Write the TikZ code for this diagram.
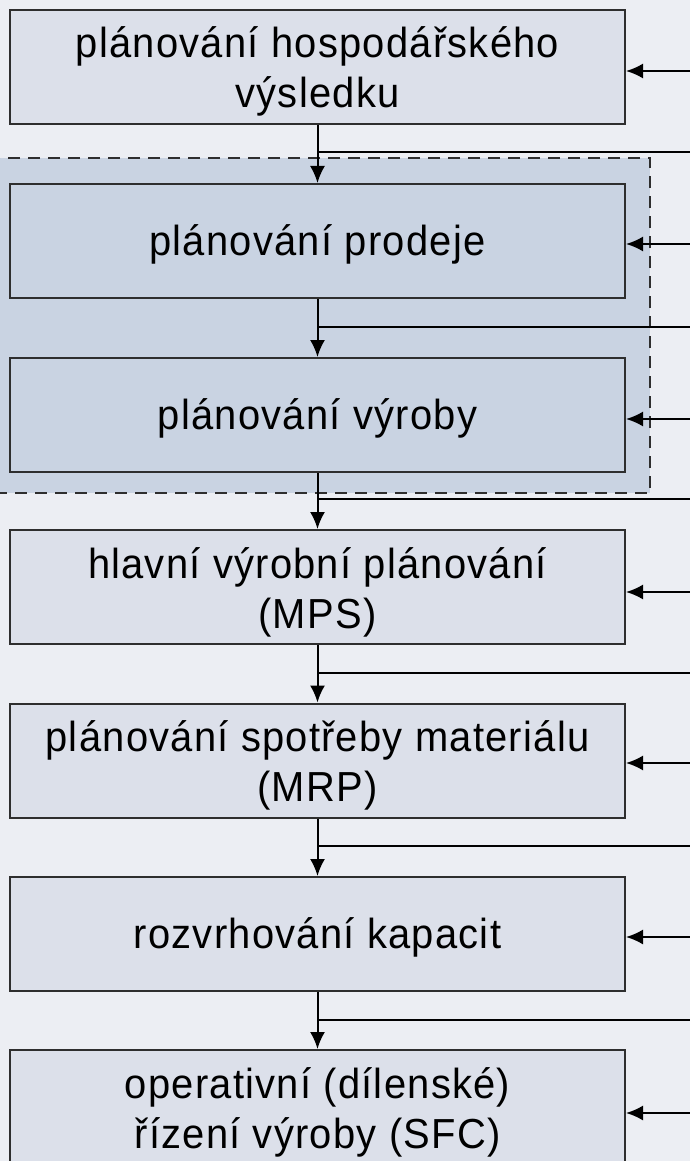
\documentclass[tikz,border=0pt]{standalone}
\usepackage{fontspec}
\setmainfont[FakeStretch=0.95,LetterSpace=3]{Liberation Sans}
\usetikzlibrary{arrows.meta}
\definecolor{bgc}{HTML}{ECEEF3}
\definecolor{boxc}{HTML}{DCE0EA}
\definecolor{grpc}{HTML}{C9D3E2}
\definecolor{edgec}{HTML}{2E2E2E}
\tikzset{
  stage/.style={draw=edgec, line width=2pt, fill=boxc, minimum width=615pt, minimum height=114pt,
    inner sep=0pt},
  ingroup/.style={fill=grpc},
  stxt/.style={align=center, inner sep=0pt, anchor=base, font=\fontsize{42}{50}\selectfont, text=black},
  conn/.style={line width=2pt, black},
  arr/.style={conn, -{Latex[length=17pt,width=15pt]}},
  grp/.style={draw=edgec, line width=2.6pt, dash pattern=on 12pt off 8pt, fill=grpc}
}
\begin{document}
\begin{tikzpicture}[x=1pt,y=1pt]
\fill[bgc] (0,0) rectangle (690,-1161);
\useasboundingbox (0,0) rectangle (690,-1161);
\clip (0,0) rectangle (690,-1161);
% group
\draw[grp] (-10,-158) rectangle (650,-493);
% stages
\node[stage] (b1) at (317.5,-67) {};
\node[stage, ingroup] (b2) at (317.5,-241) {};
\node[stage, ingroup] (b3) at (317.5,-415) {};
\node[stage] (b4) at (317.5,-587) {};
\node[stage] (b5) at (317.5,-760.5) {};
\node[stage] (b6) at (317.5,-934) {};
\node[stage] (b7) at (317.5,-1107) {};
% texts (base anchor: baseline of the last line)
\node[stxt] (t1) at ([yshift=-41pt]b1.center) {plánování hospodářského\\výsledku};
\node[stxt] (t2) at ([yshift=-14pt]b2.center) {plánování prodeje};
\node[stxt] (t3) at ([yshift=-14pt]b3.center) {plánování výroby};
\node[stxt] (t4) at ([yshift=-41pt]b4.center) {hlavní výrobní plánování\\(MPS)};
\node[stxt] (t5) at ([yshift=-41pt]b5.center) {plánování spotřeby materiálu\\(MRP)};
\node[stxt] (t6) at ([yshift=-14pt]b6.center) {rozvrhování kapacit};
\node[stxt] (t7) at ([yshift=-41pt]b7.center) {operativní (dílenské)\\řízení výroby (SFC)};
% feed lines from the right
\coordinate (f1) at (690,-152);
\coordinate (f2) at (690,-327);
\coordinate (f3) at (690,-499);
\coordinate (f4) at (690,-673);
\coordinate (f5) at (690,-846);
\coordinate (f6) at (690,-1020);
% incoming arrows
\coordinate (i1) at (690,-71);
\coordinate (i2) at (690,-244);
\coordinate (i3) at (690,-419);
\coordinate (i4) at (690,-592);
\coordinate (i5) at (690,-763);
\coordinate (i6) at (690,-937);
\coordinate (i7) at (690,-1113);
% vertical connectors
\draw[arr] (b1.south) -- (b2.north);
\draw[arr] (b2.south) -- (b3.north);
\draw[arr] (b3.south) -- (b4.north);
\draw[arr] (b4.south) -- (b5.north);
\draw[arr] (b5.south) -- (b6.north);
\draw[arr] (b6.south) -- (b7.north);
% horizontal feeds
\draw[conn] (b1.south |- f1) -- (f1);
\draw[conn] (b2.south |- f2) -- (f2);
\draw[conn] (b3.south |- f3) -- (f3);
\draw[conn] (b4.south |- f4) -- (f4);
\draw[conn] (b5.south |- f5) -- (f5);
\draw[conn] (b6.south |- f6) -- (f6);
% arrows into boxes
\draw[arr] (i1) -- (b1.east |- i1);
\draw[arr] (i2) -- (b2.east |- i2);
\draw[arr] (i3) -- (b3.east |- i3);
\draw[arr] (i4) -- (b4.east |- i4);
\draw[arr] (i5) -- (b5.east |- i5);
\draw[arr] (i6) -- (b6.east |- i6);
\draw[arr] (i7) -- (b7.east |- i7);
\end{tikzpicture}
\end{document}
